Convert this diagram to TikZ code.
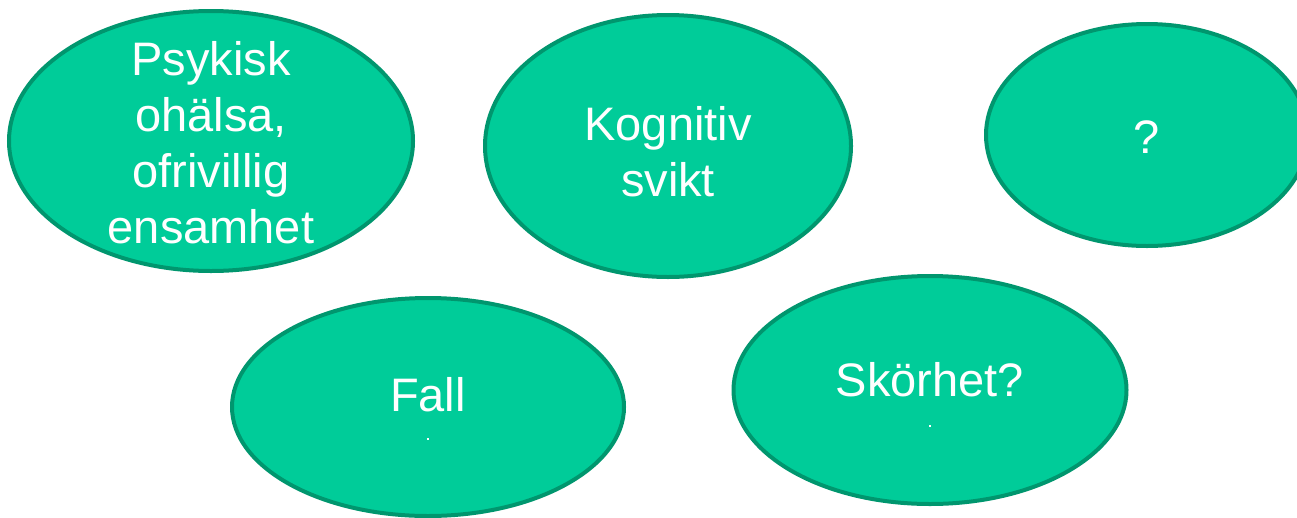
\documentclass[tikz,border=0pt]{standalone}
\usepackage{fontspec}
\setmainfont{Liberation Sans}
\usetikzlibrary{shapes.geometric}
\definecolor{fillg}{RGB}{0,204,153}
\definecolor{edgeg}{RGB}{0,150,110}
\begin{document}
\begin{tikzpicture}[x=1pt,y=-1pt,
  blob/.style={ellipse, draw=edgeg, fill=fillg, line width=4pt, inner sep=0pt},
  lbl/.style={text=white, font=\fontsize{47}{56}\selectfont, align=center, inner sep=0pt},
  tinydot/.style={fill=white, inner sep=0pt, minimum size=2.5pt, rectangle}]
\useasboundingbox (0,0) rectangle (1297,517);
\node[blob, minimum width=404pt, minimum height=260pt] (e1) at (211,141) {};
\node[blob, minimum width=366pt, minimum height=262pt] (e2) at (668,146) {};
\node[blob, minimum width=322pt, minimum height=222pt] (e3) at (1147,135) {};
\node[blob, minimum width=392pt, minimum height=218pt] (e4) at (428,407) {};
\node[blob, minimum width=393pt, minimum height=228pt] (e5) at (930,390) {};
\node[lbl] (t1) at (211,143) {Psykisk\\ohälsa,\\ofrivillig\\ensamhet};
\node[lbl] (t2) at (668,152) {Kognitiv\\svikt};
\node[lbl] (t3) at (1147,137) {?};
\node[lbl] (t4) at (428,395) {Fall};
\node[lbl] (t5) at (930,380) {Skörhet?};
\node[tinydot] (d4) at (428,439) {};
\node[tinydot] (d5) at (930,426) {};
\end{tikzpicture}
\end{document}
